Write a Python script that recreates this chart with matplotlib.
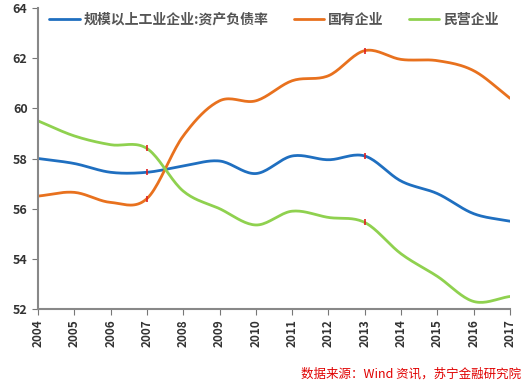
import matplotlib
matplotlib.use("Agg")
import matplotlib.pyplot as plt
import numpy as np

plt.rcParams["font.family"] = ["Noto Sans CJK SC", "DejaVu Sans"]

years = [2004, 2005, 2006, 2007, 2008, 2009, 2010, 2011, 2012, 2013, 2014, 2015, 2016, 2017]
total = [58.0, 57.8, 57.45, 57.45, 57.7, 57.9, 57.4, 58.1, 57.95, 58.1, 57.1, 56.6, 55.8, 55.5]
state = [56.5, 56.65, 56.25, 56.4, 58.9, 60.3, 60.3, 61.1, 61.3, 62.3, 61.95, 61.9, 61.5, 60.4]
private = [59.5, 58.9, 58.55, 58.4, 56.7, 56.0, 55.35, 55.9, 55.65, 55.45, 54.2, 53.3, 52.3, 52.5]
labels = ["规模以上工业企业:资产负债率", "国有企业", "民营企业"]
colors = ["#1F6FC0", "#E8711E", "#8FD14F"]
marked = [2007, 2013]


def smooth(x, y, n=20):
    # Catmull-Rom curve through the points, like Excel's smoothed line
    x = np.asarray(x, float)
    y = np.asarray(y, float)
    px = np.concatenate([[2 * x[0] - x[1]], x, [2 * x[-1] - x[-2]]])
    py = np.concatenate([[2 * y[0] - y[1]], y, [2 * y[-1] - y[-2]]])
    xs, ys = [], []
    t = np.linspace(0, 1, n, endpoint=False)
    for i in range(1, len(px) - 2):
        for p, out in ((px, xs), (py, ys)):
            p0, p1, p2, p3 = p[i - 1], p[i], p[i + 1], p[i + 2]
            out.extend(0.5 * (2 * p1 + (-p0 + p2) * t
                              + (2 * p0 - 5 * p1 + 4 * p2 - p3) * t ** 2
                              + (-p0 + 3 * p1 - 3 * p2 + p3) * t ** 3))
    xs.append(x[-1])
    ys.append(y[-1])
    return xs, ys


fig = plt.figure(figsize=(5.24, 3.85), dpi=100)
ax = fig.add_axes([38 / 524, 1 - 309 / 385, 472 / 524, 301 / 385])

for vals, lab, col in zip([total, state, private], labels, colors):
    sx, sy = smooth(years, vals)
    ax.plot(sx, sy, color=col, lw=2.0, label=lab, solid_capstyle="round")
    for yr in marked:
        v = vals[years.index(yr)]
        ax.plot(yr, v, marker="|", color="#E02020", ms=4, mew=1.2, zorder=5)

ax.set_xlim(2004, 2017)
ax.set_ylim(52, 64)
ax.set_xticks(years)
ax.set_xticklabels([str(y) for y in years], rotation=90, fontsize=8.5,
                   color="#333333", fontweight="bold")
ax.set_yticks(range(52, 65, 2))
ax.set_yticklabels([str(v) for v in range(52, 65, 2)], fontsize=9,
                   color="#333333", fontweight="bold")
ax.tick_params(axis="y", length=4, color="#777777")
ax.tick_params(axis="x", length=4, color="#777777")
for s in ["top", "right"]:
    ax.spines[s].set_visible(False)
ax.spines["left"].set_color("#888888")
ax.spines["left"].set_linewidth(1.5)
ax.spines["bottom"].set_color("#888888")
ax.spines["bottom"].set_linewidth(1.5)

leg = ax.legend(loc="upper center", bbox_to_anchor=(0.5, 1.025), ncol=3, frameon=False,
                fontsize=10, handlelength=2.2, handletextpad=0.3, columnspacing=1.8,
                labelcolor="#555555", prop={"weight": "bold", "size": 10})

fig.text(0.995, 0.012, "数据来源：Wind 资讯，苏宁金融研究院", ha="right", va="bottom",
         color="#E00000", fontsize=9, style="italic")

fig.savefig("out.png", dpi=100)
